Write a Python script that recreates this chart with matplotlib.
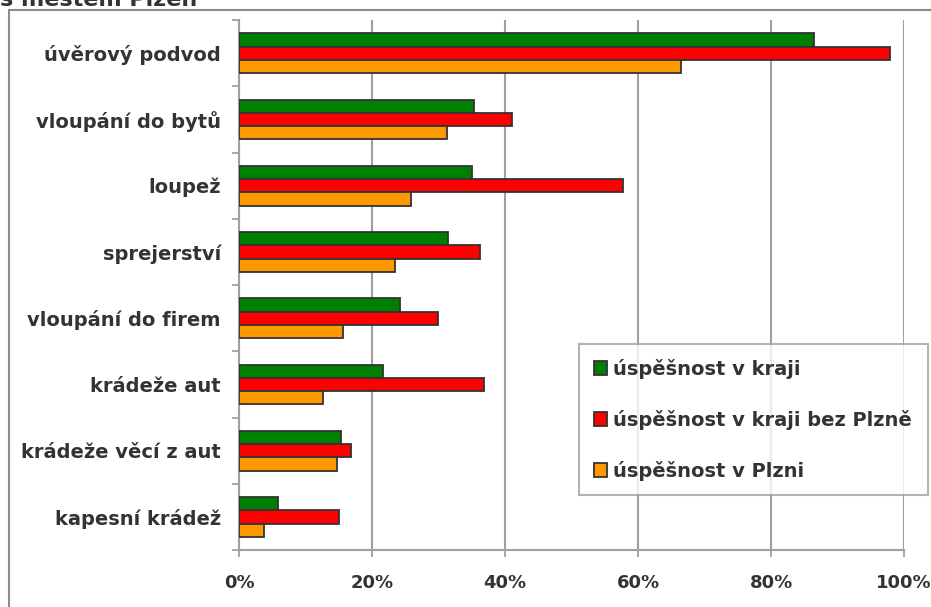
import matplotlib
matplotlib.use('Agg')
import matplotlib.pyplot as plt
from matplotlib.patches import Rectangle
from matplotlib.ticker import FuncFormatter
import numpy as np

plt.rcParams['font.family'] = ['DejaVu Sans']

categories = ['úvěrový podvod', 'vloupání do bytů', 'loupež', 'sprejerství',
              'vloupání do firem', 'krádeže aut', 'krádeže věcí z aut',
              'kapesní krádež']
kraj = [86.4, 35.3, 35.0, 31.4, 24.2, 21.7, 15.4, 5.8]
kraj_bez_plzne = [97.9, 41.0, 57.8, 36.2, 29.9, 36.8, 16.9, 15.1]
plzen = [66.5, 31.3, 25.9, 23.5, 15.7, 12.7, 14.8, 3.7]
series_names = ['úspěšnost v kraji', 'úspěšnost v kraji bez Plzně', 'úspěšnost v Plzni']
colors = ['#008000', '#ff0000', '#ff9900']
x_ticks = [0, 20, 40, 60, 80, 100]

grid_col = '#a0a0a0'
text_col = '#333333'

fig = plt.figure(figsize=(9.31, 6.07), dpi=100)
ax = fig.add_axes([239 / 931, 1 - 550 / 607, 665 / 931, 530 / 607])

y = np.arange(len(categories))
h = 0.2
for i, (vals, name, c) in enumerate(zip([kraj, kraj_bez_plzne, plzen], series_names, colors)):
    ax.barh(y + (i - 1) * h, vals, height=h, color=c, edgecolor='#333333',
            linewidth=1.3, label=name, zorder=3)

ax.set_xlim(0, 100)
ax.set_ylim(len(categories) - 0.5, -0.5)
ax.set_xticks(x_ticks)
ax.xaxis.set_major_formatter(FuncFormatter(lambda v, p: f'{v:.0f}%'))
ax.grid(axis='x', color=grid_col, linewidth=1.5, zorder=0)

ax.set_yticks(y, categories)
ax.set_yticks(np.arange(len(categories) + 1) - 0.5, minor=True)
ax.tick_params(axis='y', which='major', length=0, pad=13)
ax.tick_params(axis='y', which='minor', length=5, width=1.3, color=grid_col)
ax.tick_params(axis='x', length=5, width=1.3, color=grid_col, pad=12)
for lbl in ax.get_yticklabels():
    lbl.set_fontsize(14)
    lbl.set_fontweight('bold')
    lbl.set_color(text_col)
for lbl in ax.get_xticklabels():
    lbl.set_fontsize(13)
    lbl.set_fontweight('bold')
    lbl.set_color(text_col)

for s in ['top', 'right']:
    ax.spines[s].set_visible(False)
for s in ['left', 'bottom']:
    ax.spines[s].set_color(grid_col)
    ax.spines[s].set_linewidth(1.5)

leg = ax.legend(loc='upper left', bbox_to_anchor=(579 / 931, 1 - 496 / 607, 349 / 931, 152 / 607),
                bbox_transform=fig.transFigure, mode='expand', frameon=True, fancybox=False,
                prop={'weight': 'bold', 'size': 14}, labelspacing=1.6, handlelength=0.7,
                handleheight=0.7, handletextpad=0.3, borderpad=0.75, borderaxespad=0)
leg.get_frame().set_edgecolor(grid_col)
leg.get_frame().set_linewidth(1.5)
for t in leg.get_texts():
    t.set_color(text_col)

# outer chart frame, cut by the image edges
fig.patches.append(Rectangle((9 / 931, -0.05), 1.1, 1 - 10 / 607 + 0.05,
                             transform=fig.transFigure, fill=False,
                             edgecolor='#8c8c8c', linewidth=1.5))
# title, mostly cut off at the top
fig.text(0.0, 1 - 6 / 607, 's městem Plzeň', fontsize=16, fontweight='bold',
         color=text_col, ha='left', va='baseline')

fig.savefig('out.png', dpi=100)
